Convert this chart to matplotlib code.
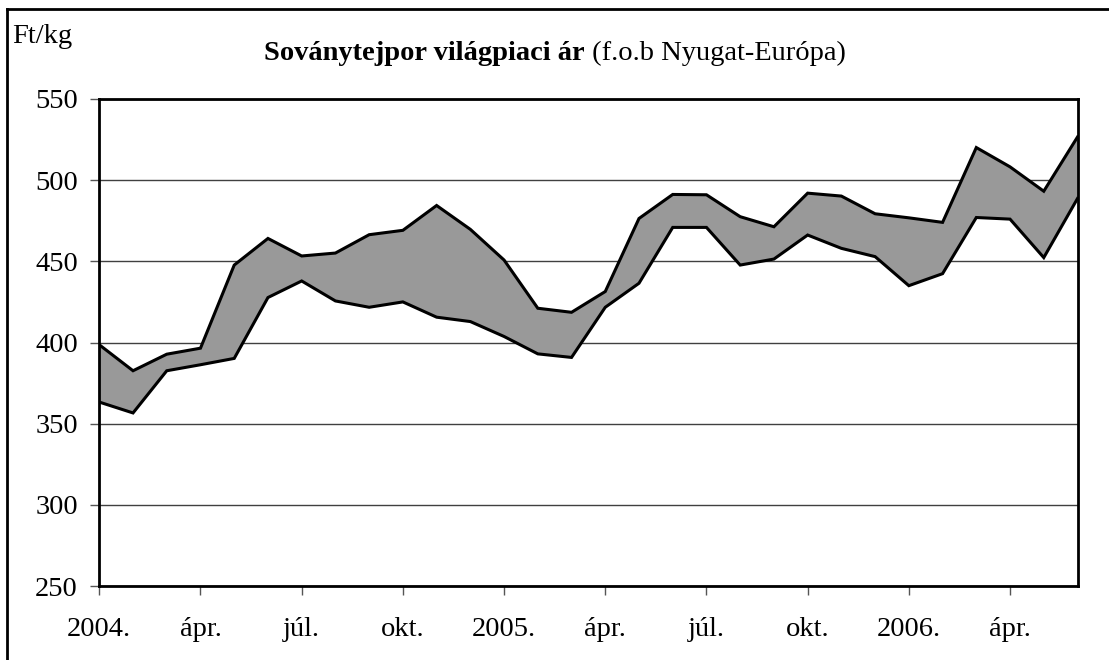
import matplotlib
matplotlib.use("Agg")
import matplotlib.pyplot as plt
from matplotlib.lines import Line2D

# --- data (Ft/kg), monthly Jan 2004 - Jun 2006 ---
months = list(range(30))
upper = [398.6, 382.6, 392.8, 396.5, 447.7, 464.1, 453.3, 455.1, 466.4, 469.1,
         484.4, 469.7, 450.8, 421.1, 418.6, 431.4, 476.4, 491.2, 491.0, 477.5,
         471.3, 492.0, 490.2, 479.3, 476.8, 474.0, 520.1, 508.2, 493.2, 526.6]
lower = [363.3, 356.6, 382.6, 386.3, 390.2, 427.7, 437.9, 425.6, 421.7, 425.0,
         415.6, 412.9, 403.7, 393.0, 390.8, 421.7, 436.5, 470.9, 470.9, 447.7,
         451.4, 466.2, 458.0, 452.9, 435.0, 442.4, 477.0, 476.0, 452.3, 488.7]
tick_pos = [0, 3, 6, 9, 12, 15, 18, 21, 24, 27]
tick_labels = ["2004.", "ápr.", "júl.", "okt.", "2005.", "ápr.", "júl.", "okt.", "2006.", "ápr."]
y_ticks = [250, 300, 350, 400, 450, 500, 550]

plt.rcParams['font.family'] = ['Liberation Serif', 'DejaVu Serif']

W, H = 1109, 660
fig = plt.figure(figsize=(W / 100, H / 100), dpi=100)
ax = fig.add_axes([99.3 / W, 1 - 586 / H, (1077.5 - 99.3) / W, (586 - 99) / H])

ax.fill_between(months, lower, upper, color='#999999', linewidth=0, zorder=2)
ax.plot(months, upper, color='black', lw=2.2, zorder=3, solid_joinstyle='miter')
ax.plot(months, lower, color='black', lw=2.2, zorder=3, solid_joinstyle='miter')

ax.set_xlim(0, 29)
ax.set_ylim(250, 550)
ax.set_yticks(y_ticks)
ax.set_xticks(tick_pos)
ax.set_xticklabels(tick_labels)
ax.yaxis.grid(True, color='#404040', lw=1.0, zorder=1)
ax.set_axisbelow(True)

for s in ax.spines.values():
    s.set_linewidth(2.0)
    s.set_color('black')
ax.tick_params(axis='y', direction='out', length=6.5, width=1, colors='#555555',
               labelcolor='black', labelsize=20.5, pad=9)
ax.tick_params(axis='x', direction='out', length=6.5, width=1, colors='#555555',
               labelcolor='black', labelsize=20.5, pad=16)

# Unit label
fig.text(11.7 / W, 1 - 43 / H, "Ft/kg", fontsize=20.5, ha='left', va='baseline')

# Title: bold part followed by normal part
t1 = fig.text(264 / W, 1 - 60 / H, "Soványtejpor világpiaci ár", fontsize=20.5,
              fontweight='bold', ha='left', va='baseline')
fig.canvas.draw()
ax.annotate(" (f.o.b Nyugat-Európa)", xy=(1, 0), xycoords=t1, fontsize=20.5,
            ha='left', va='bottom', annotation_clip=False)

# Outer frame (left and top edges)
fig.add_artist(Line2D([7.3 / W, 7.3 / W], [0, 1 - 9.3 / H], transform=fig.transFigure,
                      color='black', lw=2.0))
fig.add_artist(Line2D([7.3 / W, 1], [1 - 9.3 / H, 1 - 9.3 / H], transform=fig.transFigure,
                      color='black', lw=2.0))

fig.savefig("out.png", dpi=100)
